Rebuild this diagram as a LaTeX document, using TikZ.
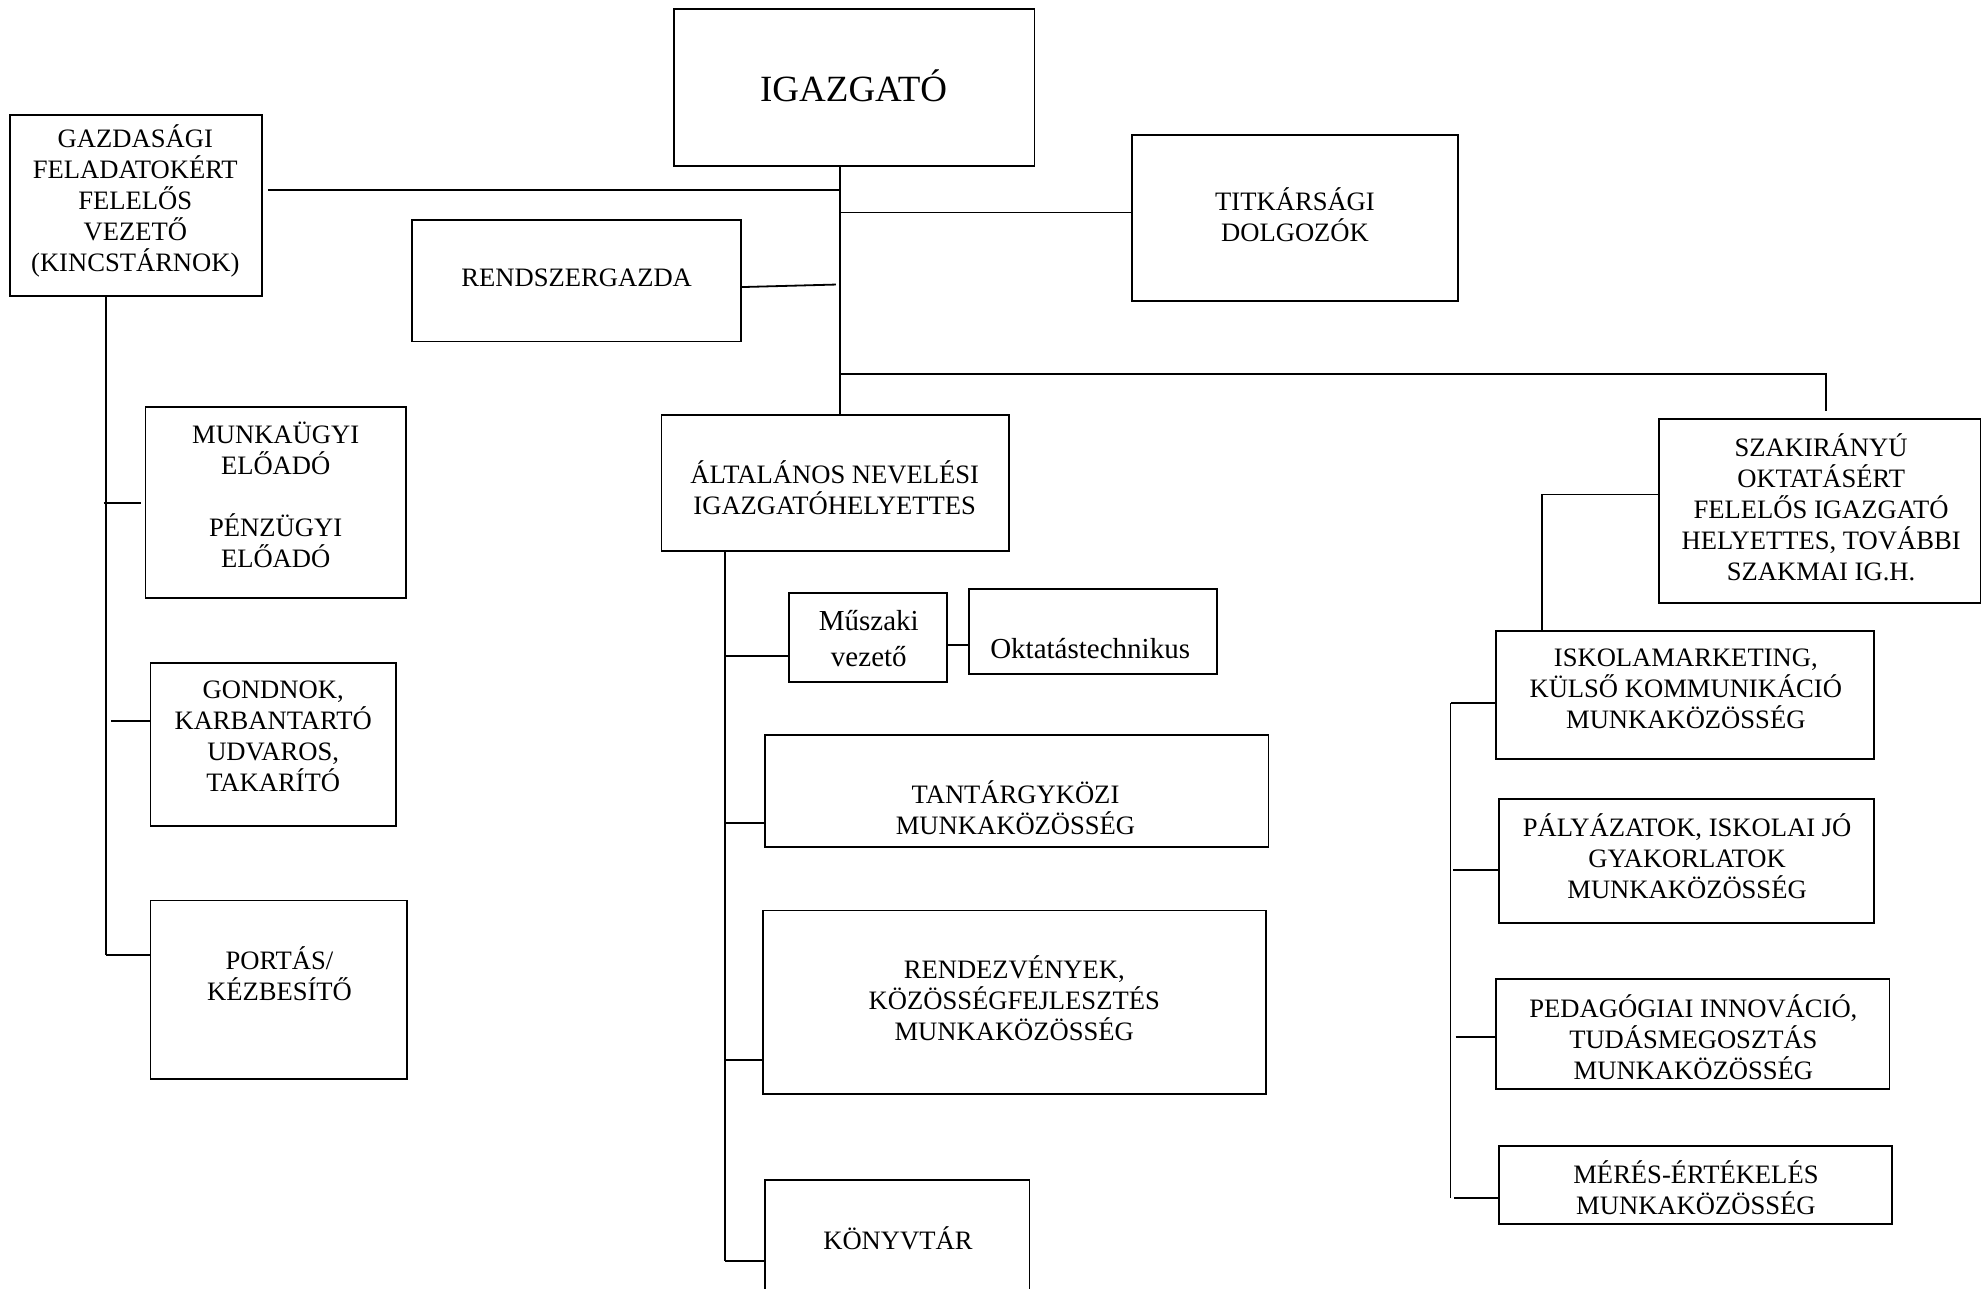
\documentclass[tikz,border=0pt]{standalone}
\usepackage{fontspec}
\setmainfont{Liberation Serif}
\usetikzlibrary{fit}
\tikzset{
  box/.style={draw, line width=0.9pt, inner sep=0pt, outer sep=0pt},
  txt/.style={align=center, inner sep=0pt, font=\fontsize{13.3}{15.5}\selectfont},
  txtl/.style={align=center, inner sep=0pt, font=\fontsize{14.5}{17.7}\selectfont},
  txtbig/.style={align=center, inner sep=0pt, font=\fontsize{18.5}{22}\selectfont},
  conn/.style={line width=0.9pt},
}
\newcommand\obox[5]{\node[box, fit={(#2,#3) (#4,#5)}] (#1) {};}
\begin{document}
\begin{tikzpicture}[x=0.63235pt,y=-0.63235pt]
\useasboundingbox (0,0) rectangle (1568,1019);
\clip (0,0) rectangle (1568,1019);
% boxes
\obox{igaz}{533}{7}{818}{131}
\obox{gazd}{8}{91}{207}{234}
\obox{titk}{895}{107}{1153}{238}
\obox{rendsz}{326}{174}{586}{270}
\obox{alt}{523}{328}{798}{436}
\obox{szak}{1312}{331}{1566}{477}
\obox{munk}{115}{322}{321}{473}
\obox{gond}{119}{524}{313}{653}
\obox{port}{119}{712}{322}{853}
\obox{musz}{624}{469}{749}{539}
\obox{okt}{766}{466}{962}{533}
\obox{tant}{605}{581}{1003}{670}
\obox{rend}{603}{720}{1001}{865}
\obox{konyv}{605}{933}{814}{1040}
\obox{isk}{1183}{499}{1482}{600}
\obox{paly}{1185}{632}{1482}{730}
\obox{ped}{1183}{774}{1494}{861}
\obox{meres}{1185}{906}{1496}{968}
% texts
\node[txtbig] (t-igaz) at (675,68) {IGAZGATÓ};
\node[txt] (t-gazd) at (107,159) {GAZDASÁGI\\FELADATOKÉRT\\FELELŐS\\VEZETŐ\\(KINCSTÁRNOK)};
\node[txt] (t-titk) at (1024,170) {TITKÁRSÁGI\\DOLGOZÓK};
\node[txt] (t-rendsz) at (456,220) {RENDSZERGAZDA};
\node[txt] (t-alt) at (660,385.5) {ÁLTALÁNOS NEVELÉSI\\IGAZGATÓHELYETTES};
\node[txt] (t-szak) at (1440,401) {SZAKIRÁNYÚ\\OKTATÁSÉRT\\FELELŐS IGAZGATÓ\\HELYETTES, TOVÁBBI\\SZAKMAI IG.H.};
\node[txt] (t-munk) at (218,391.5) {MUNKAÜGYI\\ELŐADÓ\\[15.5pt]PÉNZÜGYI\\ELŐADÓ};
\node[txt] (t-gond) at (216,582) {GONDNOK,\\KARBANTARTÓ\\UDVAROS,\\TAKARÍTÓ};
\node[txt] (t-port) at (221,770) {PORTÁS/\\KÉZBESÍTŐ};
\node[txtl] (t-musz) at (687,505) {Műszaki\\vezető};
\node[txtl] (t-okt) at (862,513) {Oktatástechnikus};
\node[txt] (t-tant) at (803,638.5) {TANTÁRGYKÖZI\\MUNKAKÖZÖSSÉG};
\node[txt] (t-rend) at (802,789) {RENDEZVÉNYEK,\\KÖZÖSSÉGFEJLESZTÉS\\MUNKAKÖZÖSSÉG};
\node[txt] (t-konyv) at (710,979) {KÖNYVTÁR};
\node[txt] (t-isk) at (1333,544.5) {ISKOLAMARKETING,\\KÜLSŐ KOMMUNIKÁCIÓ\\MUNKAKÖZÖSSÉG};
\node[txt] (t-paly) at (1334,677) {PÁLYÁZATOK, ISKOLAI JÓ\\GYAKORLATOK\\MUNKAKÖZÖSSÉG};
\node[txt] (t-ped) at (1339,820) {PEDAGÓGIAI INNOVÁCIÓ,\\TUDÁSMEGOSZTÁS\\MUNKAKÖZÖSSÉG};
\node[txt] (t-meres) at (1341,939) {MÉRÉS-ÉRTÉKELÉS\\MUNKAKÖZÖSSÉG};
% trunk coordinates
\coordinate (tr) at (664,0);
\coordinate (gtr) at (84,0);
\coordinate (atr) at (573,0);
\coordinate (rtr) at (1147,0);
\coordinate (str) at (1219,0);
\coordinate (sztop) at (1444,296);
% main trunk
\draw[conn] (igaz.south -| tr) -- (alt.north -| tr);
\draw[conn] ([xshift=3pt]gazd.east |- 0,150) -- (tr |- 0,150);
\draw[conn] (tr |- 0,168) -- (titk.west |- 0,168);
\draw[conn] (rendsz.east |- 0,227) -- (661,225);
\draw[conn] (tr |- sztop) -- (sztop) -- ([yshift=4pt]szak.north -| sztop);
% szak branch
\draw[conn] (szak.west |- 0,391) -- (str |- 0,391) -- (isk.north -| str);
% left trunk
\draw[conn] (gazd.south -| gtr) -- (gtr |- 0,755);
\draw[conn] (82,398) -- ([xshift=-2pt]munk.west |- 0,398);
\draw[conn] (88,570) -- (gond.west |- 0,570);
\draw[conn] (gtr |- 0,755) -- (port.west |- 0,755);
% middle trunk
\draw[conn] (alt.south -| atr) -- (atr |- 0,997);
\draw[conn] (atr |- 0,519) -- (musz.west |- 0,519);
\draw[conn] (atr |- 0,651) -- (tant.west |- 0,651);
\draw[conn] (atr |- 0,838) -- (rend.west |- 0,838);
\draw[conn] (atr |- 0,997) -- (konyv.west |- 0,997);
\draw[conn] (musz.east |- 0,510) -- (okt.west |- 0,510);
% right trunk
\draw[conn] (rtr |- 0,556) -- (rtr |- 0,947);
\draw[conn] (rtr |- 0,556) -- (isk.west |- 0,556);
\draw[conn] (1149,688) -- (paly.west |- 0,688);
\draw[conn] (1151,820) -- (ped.west |- 0,820);
\draw[conn] (1150,947) -- (meres.west |- 0,947);
\end{tikzpicture}
\end{document}
